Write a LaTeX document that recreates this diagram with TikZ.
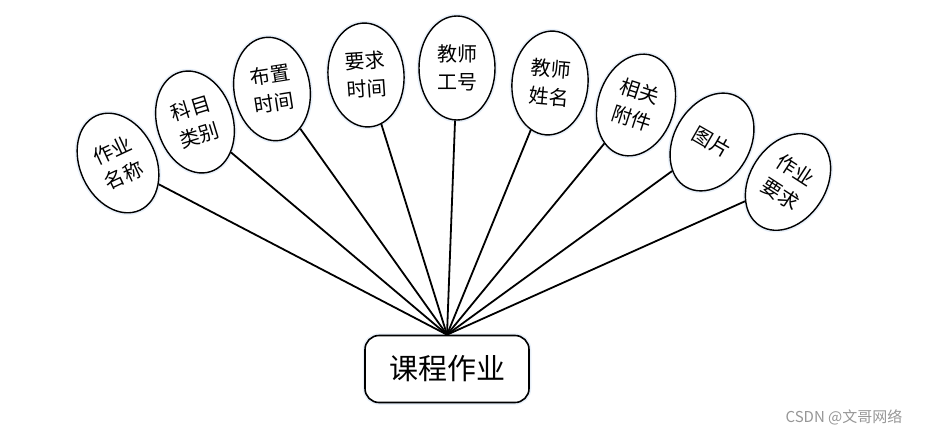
\documentclass[tikz,border=0pt]{standalone}
\usepackage{fontspec}
\setmainfont{Noto Sans CJK SC}
\usetikzlibrary{shapes.geometric}
\definecolor{hwglow}{RGB}{232,240,250}
\definecolor{hwmark}{RGB}{150,150,150}

\begin{document}
\begin{tikzpicture}[x=1pt,y=-1pt,
  attr/.style={ellipse,draw,line width=1.4pt,fill=white,minimum width=76pt,minimum height=104pt,inner sep=0pt,align=center,
    font=\fontsize{20}{28}\selectfont,preaction={draw=hwglow,line width=4.5pt}},
  entity/.style={rectangle,rounded corners=14pt,draw,line width=1.6pt,fill=white,minimum width=164pt,minimum height=67pt,
    font=\fontsize{29}{34}\selectfont,preaction={draw=hwglow,line width=4.5pt}},
  link/.style={line width=1.8pt}]
\useasboundingbox (0,0) rectangle (928,436);
\node[entity] (hw) at (447,369) {课程作业};
\foreach \x/\y/\r/\n/\t in {118/163/25/1/作业\\名称,195/122/17/2/科目\\类别,272/89/9/3/布置\\时间,
  366/75/4/4/要求\\时间,457/68/0/5/教师\\工号,550/83/-5/6/教师\\姓名,636/105/-18/7/相关\\附件,
  712/142/-30/8/图片,788/182/-33/9/作业\\要求}{
  \node[attr,rotate=\r] (a\n) at (\x,\y) {\t};}
\foreach \n in {1,...,9}
  \draw[link] (hw.north) -- (a\n);
\node[font=\fontsize{15}{17}\selectfont,text=hwmark] (mark) at (844,417) {CSDN @文哥网络};
\end{tikzpicture}
\end{document}
